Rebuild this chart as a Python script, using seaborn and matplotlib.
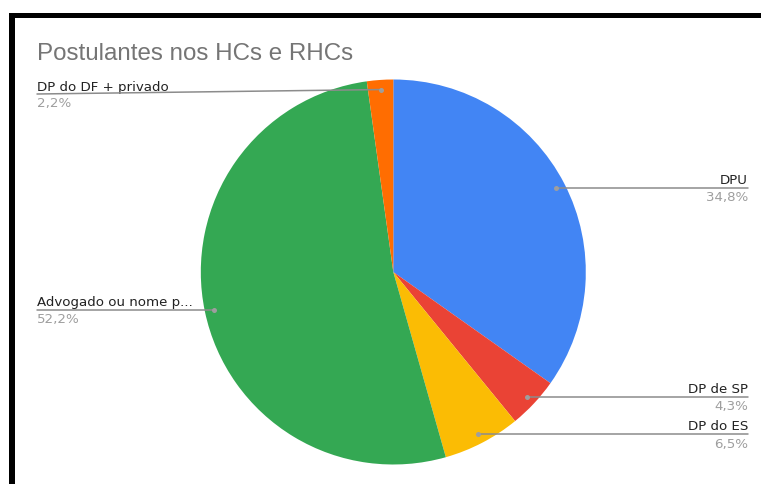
import numpy as np
import matplotlib
matplotlib.use("Agg")
import matplotlib.pyplot as plt
import seaborn as sns

# Data
categories = ["DPU", "DP de SP", "DP do ES", "Advogado ou nome p...", "DP do DF + privado"]
values = [34.8, 4.3, 6.5, 52.2, 2.2]
pct_labels = ["34,8%", "4,3%", "6,5%", "52,2%", "2,2%"]
colors = ["#4285F4", "#EA4335", "#FBBC04", "#34A853", "#FF6D01"]
title = "Postulantes nos HCs e RHCs"

sns.set_theme(style="white")
plt.rcParams["font.family"] = ["DejaVu Sans"]

W, H = 761, 484
fig = plt.figure(figsize=(W / 100, H / 100), dpi=100)
ax = fig.add_axes([0, 0, 1, 1])

def Y(y):
    return H - y

cx, cy, R = 393.3, 272, 192.5
wedges, _ = ax.pie(values, colors=colors, startangle=90, counterclock=False,
                   center=(cx, Y(cy)), radius=R, frame=True,
                   wedgeprops=dict(linewidth=0))
ax.set_xlim(0, W)
ax.set_ylim(0, H)
ax.set_aspect("equal")
ax.axis("off")

# frame (black border top & left)
ax.add_patch(plt.Rectangle((9, 0), 5.6, Y(12.5), color="black", lw=0, zorder=1))
ax.add_patch(plt.Rectangle((9, Y(18)), W - 9, 5.5, color="black", lw=0, zorder=1))

ax.text(37, Y(60), title, fontsize=17.4, color="#757575", family="Liberation Sans",
        ha="left", va="baseline")

line_c = "#8c8c8c"
dot_c = "#9e9e9e"
fs = 9.6
for i, w in enumerate(wedges):
    th = np.deg2rad((w.theta1 + w.theta2) / 2)
    dx = cx + 0.95 * R * np.cos(th)
    dy = Y(cy) + 0.95 * R * np.sin(th)
    ax.plot([dx], [dy], "o", ms=3.6, color=dot_c, zorder=5, mec="none")
    if dx > cx:
        ly = dy
        ax.plot([dx, 748], [ly, ly], color=line_c, lw=1.1, zorder=4)
        ax.text(748, ly + 4, categories[i], fontsize=fs, color="#222222",
                ha="right", va="baseline")
        ax.text(748, ly - 13.5, pct_labels[i], fontsize=fs, color="#9e9e9e",
                ha="right", va="baseline")
    else:
        ly = dy if abs(dy - Y(cy)) < 150 else Y(94)
        ax.plot([37, dx], [ly, dy], color=line_c, lw=1.1, zorder=4)
        ax.text(37, ly + 3.5, categories[i], fontsize=fs, color="#222222",
                ha="left", va="baseline")
        ax.text(37, ly - 13.5, pct_labels[i], fontsize=fs, color="#9e9e9e",
                ha="left", va="baseline")

fig.savefig("out.png", dpi=100, facecolor="white")
